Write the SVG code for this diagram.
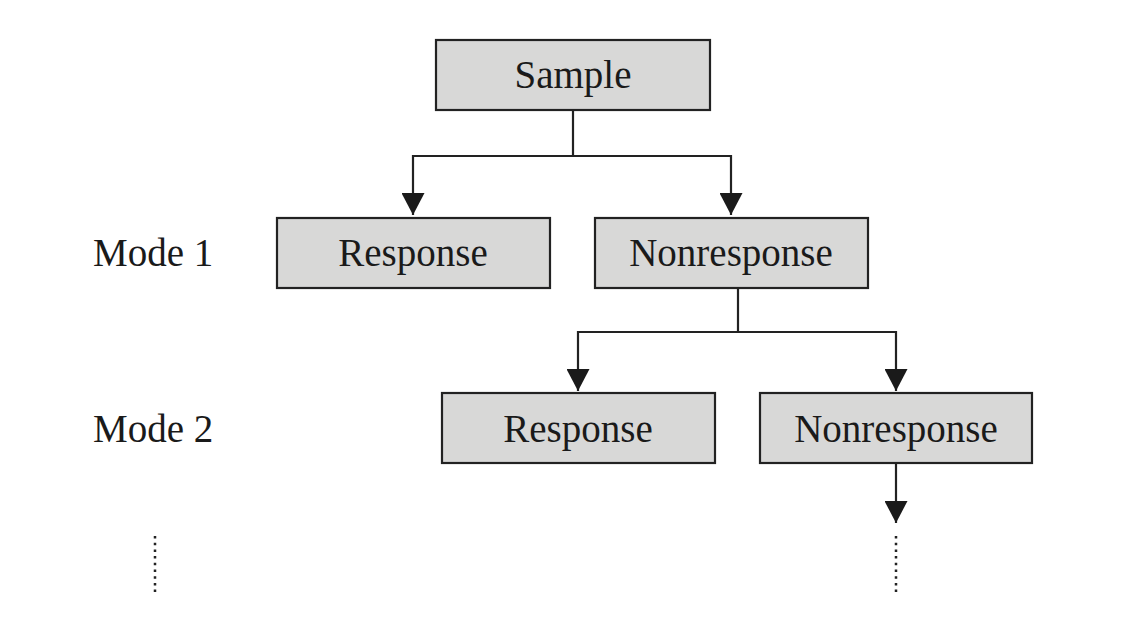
<svg xmlns="http://www.w3.org/2000/svg" width="1124" height="638" viewBox="0 0 1124 638">
<style>
.box{fill:#d8d8d7;stroke:#222;stroke-width:2.2}
.t{font-family:"Liberation Serif",serif;font-size:39px;fill:#1a1a1a;text-anchor:middle}
.lbl{font-family:"Liberation Serif",serif;font-size:39px;fill:#1a1a1a}
.ln{fill:none;stroke:#222;stroke-width:2.2}
.dot{fill:none;stroke:#222;stroke-width:2.5;stroke-dasharray:2.5 4.2}
</style>
<defs>
<marker id="ah" viewBox="0 0 22 23" refX="22" refY="11.5" markerWidth="22" markerHeight="23" markerUnits="userSpaceOnUse" orient="auto">
<path d="M0,0 L22,11.5 L0,23 Z" fill="#1a1a1a"/>
</marker>
</defs>
<rect width="1124" height="638" fill="#fff"/>
<g id="connectors">
<path class="ln" d="M573,111 V156 H413 V215" marker-end="url(#ah)"/>
<path class="ln" d="M573,156 H731 V215" marker-end="url(#ah)"/>
<path class="ln" d="M738,289 V332 H578 V391" marker-end="url(#ah)"/>
<path class="ln" d="M738,332 H896 V391" marker-end="url(#ah)"/>
<path class="ln" d="M896,464 V523" marker-end="url(#ah)"/>
<line class="dot" x1="155" y1="536" x2="155" y2="593"/>
<line class="dot" x1="896" y1="536" x2="896" y2="593"/>
</g>
<g id="sample"><rect class="box" x="436" y="40" width="274" height="70"/><text class="t" x="573" y="88">Sample</text></g>
<g id="mode1-label"><text class="lbl" x="93" y="266">Mode 1</text></g>
<g id="response1"><rect class="box" x="277" y="218" width="273" height="70"/><text class="t" x="413" y="266">Response</text></g>
<g id="nonresponse1"><rect class="box" x="595" y="218" width="273" height="70"/><text class="t" x="731" y="266">Nonresponse</text></g>
<g id="mode2-label"><text class="lbl" x="93" y="442">Mode 2</text></g>
<g id="response2"><rect class="box" x="442" y="393" width="273" height="70"/><text class="t" x="578" y="442">Response</text></g>
<g id="nonresponse2"><rect class="box" x="760" y="393" width="272" height="70"/><text class="t" x="896" y="442">Nonresponse</text></g>
</svg>
